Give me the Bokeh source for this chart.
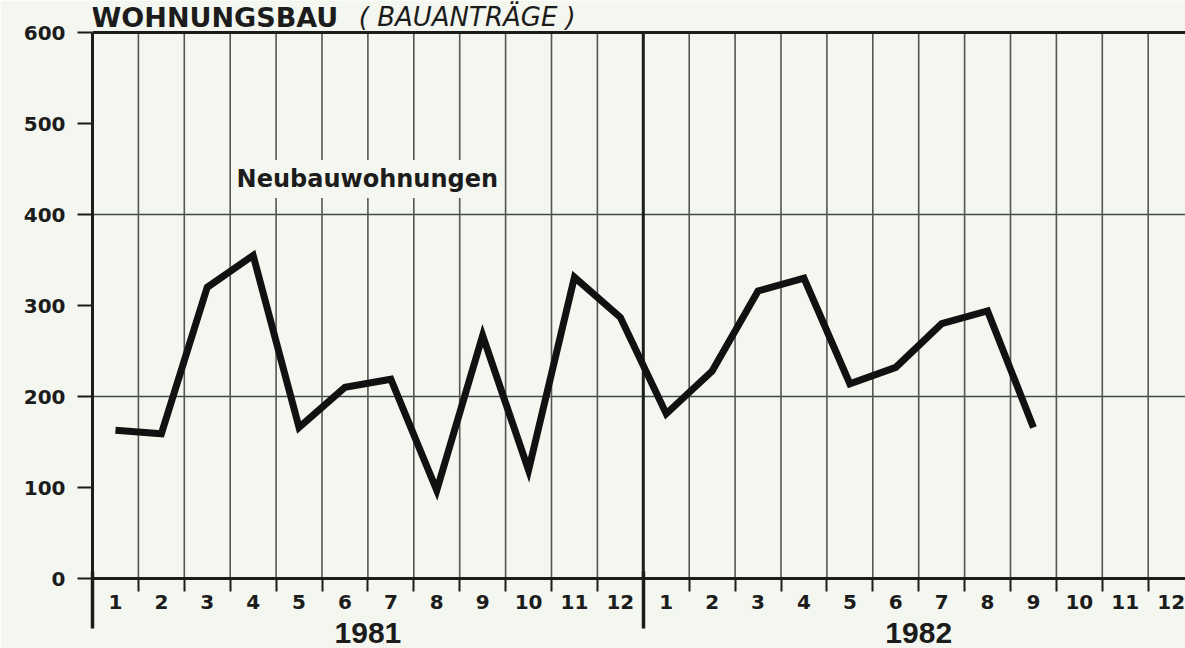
from bokeh.plotting import figure
from bokeh.models import Range1d, FixedTicker, LinearAxis, Label, Grid, ColumnDataSource, Span
from bokeh.embed import file_html
from bokeh.resources import INLINE

# ---- data ----
years = ["1981", "1982"]
month_names = [str(m) for m in range(1, 13)]
values_1981 = [163, 159, 320, 355, 166, 210, 219, 97, 267, 119, 331, 287]
values_1982 = [181, 228, 316, 330, 214, 232, 280, 294, 166]
y_ticks = [0, 100, 200, 300, 400, 500, 600]
series_label = "Neubauwohnungen"
title_main = "WOHNUNGSBAU"
title_sub = "( BAUANTRÄGE )"

BG = "#f4f7ef"
INK = "#1c1c1c"
Y_MAX = 600

n_months = 12 * len(years)
x_vals = list(range(1, len(values_1981) + 1)) + [12 + i for i in range(1, len(values_1982) + 1)]
y_vals = values_1981 + values_1982
src = ColumnDataSource(dict(x=x_vals, y=y_vals))

W, H = 1185, 648
LEFT, BOTTOM = 92, 70
PX_PER_UNIT = 0.91
PX_PER_MONTH = 45.9
frame_h = H - BOTTOM
frame_w = W - LEFT

p = figure(width=W, height=H, output_backend="svg", toolbar_location=None,
           x_range=Range1d(0.5, 0.5 + frame_w / PX_PER_MONTH),
           y_range=Range1d(0, frame_h / PX_PER_UNIT),
           x_axis_type=None, y_axis_type=None,
           min_border_left=LEFT, min_border_right=0, min_border_top=0, min_border_bottom=BOTTOM,
           background_fill_color=BG, border_fill_color=BG, outline_line_color=None)

# horizontal grid
p.add_layout(Grid(dimension=1, ticker=FixedTicker(ticks=[200, 400]),
                  grid_line_color="#3f4a48", grid_line_width=1.3))

# vertical month separators (0 .. 600)
boundaries = [m + 0.5 for m in range(1, n_months)]
thin = [b for b in boundaries if b != 12.5]
p.segment(x0=thin, y0=[0] * len(thin), x1=thin, y1=[Y_MAX] * len(thin),
          line_color="#555555", line_width=1.6)
p.segment(x0=[12.5], y0=[0], x1=[12.5], y1=[Y_MAX], line_color=INK, line_width=3)

# top border line at 600
p.add_layout(Span(location=Y_MAX, dimension="width", line_color=INK, line_width=3))

# data line
p.line("x", "y", source=src, line_color="#111111", line_width=7, line_join="miter", line_cap="butt")

# y axis
yax = LinearAxis(ticker=FixedTicker(ticks=y_ticks), bounds=(0, Y_MAX))
yax.axis_line_width = 3
yax.axis_line_color = INK
yax.major_tick_in = 0
yax.major_tick_out = 15
yax.major_tick_line_width = 2
yax.major_tick_line_color = INK
yax.minor_tick_line_color = None
yax.major_label_standoff = 12
yax.major_label_text_font = "DejaVu Sans"
yax.major_label_text_font_style = "bold"
yax.major_label_text_font_size = "20px"
yax.major_label_text_color = INK
p.add_layout(yax, "left")

# x axis with month labels
xax = LinearAxis(ticker=FixedTicker(ticks=list(range(1, n_months + 1)), minor_ticks=boundaries))
xax.axis_line_width = 3
xax.axis_line_color = INK
xax.major_tick_in = 0
xax.major_tick_out = 0
xax.major_tick_line_color = None
xax.minor_tick_in = 0
xax.minor_tick_out = 13
xax.minor_tick_line_width = 2
xax.minor_tick_line_color = INK
xax.major_label_standoff = 3
xax.major_label_overrides = {i + 1: month_names[i % 12] for i in range(n_months)}
xax.major_label_text_font = "DejaVu Sans"
xax.major_label_text_font_style = "bold"
xax.major_label_text_font_size = "20px"
xax.major_label_text_color = INK
p.add_layout(xax, "below")

# year axis below the month labels, with the long year-boundary ticks
yr_ax = LinearAxis(ticker=FixedTicker(ticks=[6.5, 18.5], minor_ticks=[0.5, 12.5]))
yr_ax.axis_line_color = None
yr_ax.major_tick_line_color = None
yr_ax.major_tick_in = 0
yr_ax.major_tick_out = 0
yr_ax.major_label_standoff = -6
yr_ax.major_label_overrides = {6.5: years[0], 18.5: years[1]}
yr_ax.major_label_text_font = "Liberation Sans"
yr_ax.major_label_text_font_style = "bold"
yr_ax.major_label_text_font_size = "30px"
yr_ax.major_label_text_color = INK
yr_ax.minor_tick_in = 40
yr_ax.minor_tick_out = 17
yr_ax.minor_tick_line_width = 3.5
yr_ax.minor_tick_line_color = INK
p.add_layout(yr_ax, "below")

# series label
p.add_layout(Label(x=3.53, y=439, text=series_label, text_align="left", text_baseline="alphabetic",
                   text_font="DejaVu Sans", text_font_style="bold", text_font_size="24px",
                   text_color=INK, background_fill_color=BG, padding=5))

# title
p.add_layout(Label(x=0.48, y=616.5, text=title_main, text_align="left", text_baseline="alphabetic",
                   text_font="DejaVu Sans", text_font_style="bold", text_font_size="27px",
                   text_color=INK))
p.add_layout(Label(x=6.3, y=616.5, text=title_sub, text_align="left", text_baseline="alphabetic",
                   text_font="DejaVu Sans", text_font_style="italic", text_font_size="26px",
                   text_color=INK))

open("out.html", "w").write(file_html(p, INLINE))
